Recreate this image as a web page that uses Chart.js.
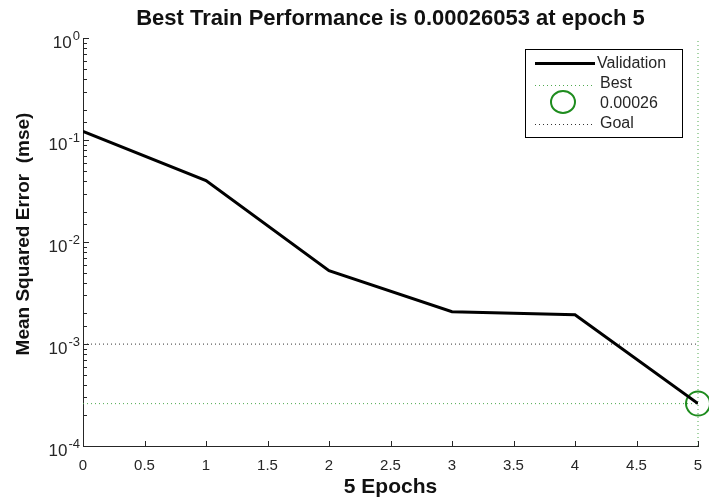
<!DOCTYPE html>
<html>
<head>
<meta charset="utf-8">
<script src="https://cdn.jsdelivr.net/npm/chart.js@4.4.0/dist/chart.umd.min.js"></script>
<style>
  html, body { margin: 0; padding: 0; background: #ffffff; }
</style>
</head>
<body>
<canvas id="perfChart" width="709" height="500"></canvas>
<script>
// values
const epochs = [0, 1, 2, 3, 4, 5];
const validationMse = [0.1225, 0.0403, 0.00525, 0.00208, 0.00194, 0.00026053];
const bestEpoch = 5;
const bestPerf = 0.00026053;
const goalMse = 0.001;
const yMin = 1e-4;
const yMax = 1;
const yDecades = [-4, -3, -2, -1, 0];
const legendLabels = ["Validation", "Best", "0.00026", "Goal"];
const yTitle = "Mean Squared Error  (mse)";

const fontFamily = "'Liberation Sans', Arial, Helvetica, sans-serif";
const textColor = "#262626";
const green = "rgb(30, 140, 30)";
const bestLineColor = "rgb(80, 170, 80)";

const validationPoints = epochs.map((e, i) => ({ x: e, y: validationMse[i] }));

// tick marks pointing inwards, superscript y labels, y title and the legend box
const matlabLook = {
  id: "matlabLook",
  afterDraw(chart) {
    const c = chart.ctx;
    const xs = chart.scales.x;
    const ys = chart.scales.y;
    const area = chart.chartArea;
    c.save();
    c.strokeStyle = textColor;
    c.lineWidth = 1;

    // y ticks
    ys.ticks.forEach(t => {
      const lg = Math.log10(t.value);
      const major = Math.abs(lg - Math.round(lg)) < 1e-6;
      const py = Math.round(ys.getPixelForValue(t.value)) + 0.5;
      c.beginPath();
      c.moveTo(area.left, py);
      c.lineTo(area.left + (major ? 6 : 4), py);
      c.stroke();
    });

    // x ticks
    xs.ticks.forEach(t => {
      const px = Math.round(xs.getPixelForValue(t.value)) + 0.5;
      c.beginPath();
      c.moveTo(px, area.bottom);
      c.lineTo(px, area.bottom - 5);
      c.stroke();
    });

    // y labels 10^n
    c.fillStyle = textColor;
    c.textBaseline = "middle";
    yDecades.forEach(p => {
      const py = ys.getPixelForValue(Math.pow(10, p));
      const exp = p < 0 ? "-" + Math.abs(p) : String(p);
      c.font = "13px " + fontFamily;
      const ew = c.measureText(exp).width;
      c.textAlign = "left";
      c.fillText(exp, area.left - 3 - ew, py - 2);
      c.font = "17px " + fontFamily;
      c.textAlign = "right";
      c.fillText("10", area.left - 4 - ew, py + 5);
    });

    // y title
    c.save();
    c.translate(24, 234);
    c.rotate(-Math.PI / 2);
    c.fillStyle = "#111111";
    c.font = "bold 19px " + fontFamily;
    c.textAlign = "center";
    c.textBaseline = "middle";
    c.fillText(yTitle, 0, 0);
    c.restore();

    // legend
    const lx = 525, ly = 49, lw = 157, lh = 88;
    c.fillStyle = "#ffffff";
    c.fillRect(lx, ly, lw, lh);
    c.strokeStyle = "#000000";
    c.lineWidth = 1;
    c.strokeRect(lx + 0.5, ly + 0.5, lw, lh);

    c.lineWidth = 3;
    c.setLineDash([]);
    c.beginPath();
    c.moveTo(535, 63.5);
    c.lineTo(595, 63.5);
    c.stroke();

    c.lineWidth = 1;
    c.setLineDash([1, 3]);
    c.strokeStyle = bestLineColor;
    c.beginPath();
    c.moveTo(535, 85.5);
    c.lineTo(592, 85.5);
    c.stroke();

    c.strokeStyle = "#333333";
    c.beginPath();
    c.moveTo(535, 124.5);
    c.lineTo(592, 124.5);
    c.stroke();

    c.setLineDash([]);
    c.strokeStyle = green;
    c.lineWidth = 2;
    c.beginPath();
    c.ellipse(563, 102, 12, 11, 0, 0, Math.PI * 2);
    c.stroke();

    c.fillStyle = textColor;
    c.font = "16px " + fontFamily;
    c.textAlign = "left";
    c.textBaseline = "middle";
    c.fillText(legendLabels[0], 597, 64);
    c.fillText(legendLabels[1], 600, 84);
    c.fillText(legendLabels[2], 600, 104);
    c.fillText(legendLabels[3], 600, 124);
    c.restore();
  }
};

new Chart(document.getElementById("perfChart"), {
  type: "scatter",
  data: {
    datasets: [
      {
        label: "Validation",
        data: validationPoints,
        showLine: true,
        borderColor: "#000000",
        borderWidth: 3,
        pointRadius: 0
      },
      {
        label: "Best",
        data: [{ x: epochs[0], y: bestPerf }, { x: epochs[epochs.length - 1], y: bestPerf }],
        showLine: true,
        borderColor: bestLineColor,
        borderWidth: 1,
        borderDash: [1, 3],
        pointRadius: 0
      },
      {
        label: "Best epoch",
        data: [{ x: bestEpoch, y: yMin }, { x: bestEpoch, y: yMax }],
        showLine: true,
        borderColor: bestLineColor,
        borderWidth: 1,
        borderDash: [1, 3],
        pointRadius: 0,
        clip: false
      },
      {
        label: "Goal",
        data: [{ x: epochs[0], y: goalMse }, { x: epochs[epochs.length - 1], y: goalMse }],
        showLine: true,
        borderColor: "#333333",
        borderWidth: 1,
        borderDash: [1, 3],
        pointRadius: 0
      },
      {
        label: "0.00026",
        data: [{ x: bestEpoch, y: bestPerf }],
        pointRadius: 12,
        pointBorderWidth: 2,
        pointBorderColor: green,
        pointBackgroundColor: "rgba(0,0,0,0)",
        clip: false
      }
    ]
  },
  options: {
    responsive: false,
    animation: false,
    layout: { autoPadding: false, padding: { left: 0, right: 11, top: 0, bottom: 0 } },
    plugins: {
      legend: { display: false },
      tooltip: { enabled: false },
      title: {
        display: true,
        fullSize: false,
        text: "Best Train Performance is 0.00026053 at epoch 5",
        color: "#111111",
        font: { family: fontFamily, size: 22, weight: "bold" },
        padding: { top: 6, bottom: 6 }
      }
    },
    scales: {
      x: {
        type: "linear",
        min: 0,
        max: 5,
        afterFit(scale) { scale.height = 54; },
        ticks: {
          stepSize: 0.5,
          color: textColor,
          padding: 0,
          font: { family: fontFamily, size: 15 },
          maxRotation: 0,
          callback: value => String(value)
        },
        grid: {
          display: true,
          drawOnChartArea: false,
          drawTicks: true,
          tickLength: 11,
          color: "rgba(0,0,0,0)"
        },
        border: { display: true, color: textColor, width: 1 },
        title: {
          display: true,
          text: "5 Epochs",
          color: "#111111",
          font: { family: fontFamily, size: 21, weight: "bold" },
          padding: { top: 0, bottom: 0 }
        }
      },
      y: {
        type: "logarithmic",
        min: yMin,
        max: yMax,
        afterFit(scale) { scale.width = 83; },
        ticks: { display: false },
        grid: { display: false, drawTicks: false },
        border: { display: true, color: textColor, width: 1 },
        title: { display: false }
      }
    }
  },
  plugins: [matlabLook]
});
</script>
</body>
</html>
